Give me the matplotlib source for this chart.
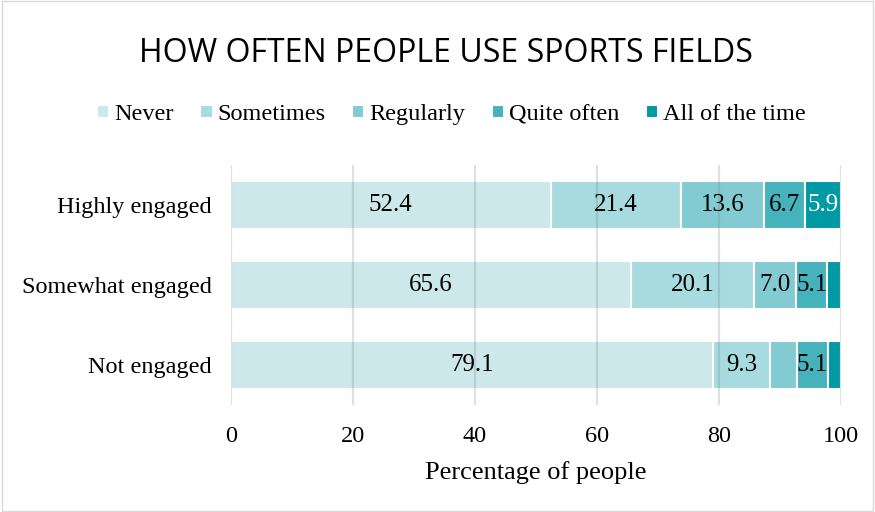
import numpy as np
import matplotlib
matplotlib.use("Agg")
from matplotlib import pyplot as plt
from matplotlib.patches import Rectangle

groups = ["Highly engaged", "Somewhat engaged", "Not engaged"]
levels = ["Never", "Sometimes", "Regularly", "Quite often", "All of the time"]
never = [52.4, 65.6, 79.1]
sometimes = [21.4, 20.1, 9.3]
regularly = [13.6, 7.0, 4.4]
quite_often = [6.7, 5.1, 5.1]
all_time = [5.9, 2.2, 2.1]
# which values get a text label (the thin slices are left bare)
shown = [[True, True, True],
         [True, True, True],
         [True, True, False],
         [True, True, True],
         [True, False, False]]

colors = ["#cce8eb", "#a7dbe0", "#83cbd2", "#45b2bc", "#0099a4"]
label_colors = ["black", "black", "black", "black", "white"]

plt.rcParams["font.family"] = ["Liberation Serif", "DejaVu Serif"]

fig = plt.figure(figsize=(8.75, 5.12), dpi=100)
ax = fig.add_axes([0.264, 0.209, 0.697, 0.469])

y = np.arange(len(groups))
left = np.zeros(len(groups))
series = [never, sometimes, regularly, quite_often, all_time]
for i, vals in enumerate(series):
    vals = np.array(vals)
    bars = ax.barh(y, vals, left=left, height=0.6, color=colors[i],
                   edgecolor="white", linewidth=1.5, label=levels[i], zorder=2)
    for j, b in enumerate(bars):
        if shown[i][j]:
            ax.text(left[j] + vals[j] / 2, y[j], f"{vals[j]:.1f}",
                    ha="center", va="center", fontsize=18,
                    color=label_colors[i], zorder=4)
    left += vals

ax.set_xlim(0, 100)
ax.set_ylim(2.5, -0.5)
ax.set_xticks(np.arange(0, 101, 20))
ax.set_yticks(y)
ax.set_yticklabels(groups)
ax.tick_params(length=0, labelsize=17.5)
ax.tick_params(axis="x", pad=15)
ax.tick_params(axis="y", pad=14)
for s in ax.spines.values():
    s.set_visible(False)
ax.xaxis.grid(True, color=(0.45, 0.45, 0.45), alpha=0.22, linewidth=1.6, zorder=3)
ax.set_axisbelow(False)
ax.set_xlabel("Percentage of people", fontsize=19, labelpad=10)

fig.text(0.51, 0.895, "HOW OFTEN PEOPLE USE SPORTS FIELDS",
         ha="center", va="center", fontsize=23,
         family=["Open Sans", "DejaVu Sans"])

handles, labs = ax.get_legend_handles_labels()
fig.legend(handles, labs, loc="center", bbox_to_anchor=(0.516, 0.776),
           ncol=5, frameon=False, fontsize=17.5, handlelength=0.5,
           handleheight=0.5, handletextpad=0.2, columnspacing=1.1)

fig.patches.append(Rectangle((0.002, 0.002), 0.996, 0.996,
                             transform=fig.transFigure, fill=False,
                             edgecolor="#d9d9d9", linewidth=1))

fig.savefig("out.png", dpi=100)
